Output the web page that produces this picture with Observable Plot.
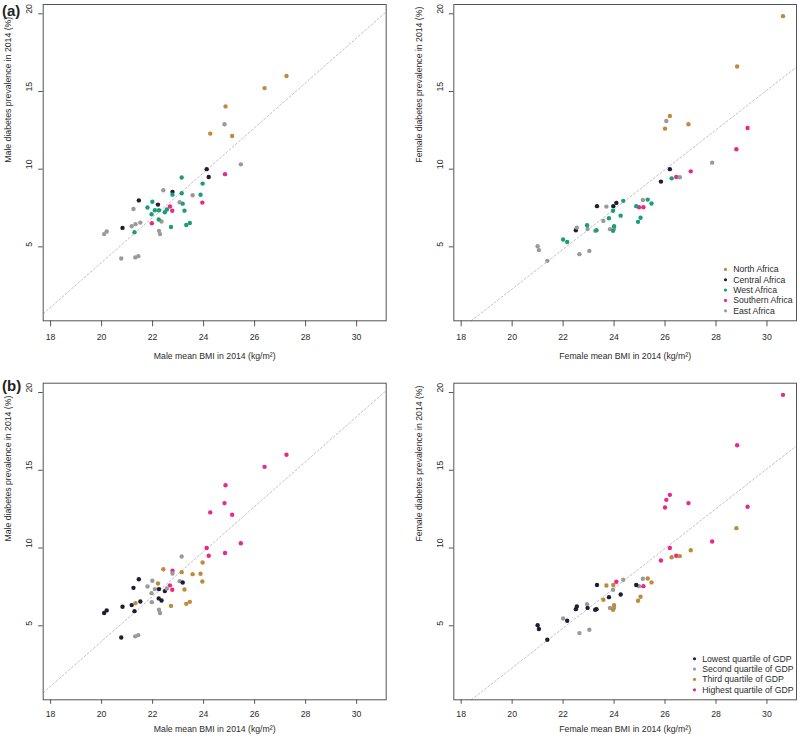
<!DOCTYPE html>
<html><head><meta charset="utf-8">
<script src="https://cdn.jsdelivr.net/npm/d3@7"></script>
<script src="https://cdn.jsdelivr.net/npm/@observablehq/plot@0.6"></script>
<style>
body{margin:0;background:#fff;font-family:"Liberation Sans",Arial,sans-serif;}
#wrap{position:relative;width:800px;height:737px;overflow:hidden;}
.panel{position:absolute;}
.panel svg{overflow:visible;}
.tag{position:absolute;font-weight:bold;font-size:15px;line-height:15px;color:#222;}
</style></head><body><div id="wrap"></div>
<script>
// ---- axes ----
const xDomain = [17.71, 31.16];
const yDomain = [0.24, 20.6];
const xTicks = [18, 20, 22, 24, 26, 28, 30];
const yTicks = [5, 10, 15, 20];

// ---- groups ----
const regions = ["North Africa", "Central Africa", "West Africa", "Southern Africa", "East Africa"];
const regionColors = ["#bf8a3a", "#211c33", "#1b9e77", "#e7298a", "#9a9a9a"];
const gdpGroups = ["Lowest quartile of GDP", "Second quartile of GDP", "Third quartile of GDP", "Highest quartile of GDP"];
const gdpColors = ["#211c33", "#9a9a9a", "#bf8a3a", "#e7298a"];

// ---- male data (region index into regions, gdp quartile 1..4) ----
const maleBMI = [27.25, 26.39, 24.86, 24.26, 25.12, 24.82, 25.46, 22.42, 23.57, 23.06, 21.25, 22.35, 21.52, 21.33, 21.18, 22.25, 22.29, 20.20, 20.10, 20.77, 21.32, 21.44, 24.12, 24.20, 22.78, 21.46, 22.21, 20.82, 24.84, 22.68, 22.77, 23.95, 21.97, 23.14, 23.96, 22.78, 23.14, 23.88, 21.99, 23.18, 21.80, 22.25, 22.09, 22.48, 22.56, 23.25, 21.96, 22.24, 21.29, 22.72, 23.32, 23.46];
const maleDM = [16.00, 15.22, 14.04, 12.29, 12.14, 12.89, 10.31, 8.64, 8.32, 7.87, 7.44, 6.63, 6.56, 6.46, 6.33, 6.03, 5.82, 5.99, 5.82, 4.25, 4.32, 4.40, 10.00, 9.50, 8.54, 7.99, 7.72, 6.22, 9.68, 7.60, 7.32, 7.85, 6.52, 9.46, 9.07, 8.36, 8.45, 8.35, 7.90, 7.78, 7.53, 7.36, 7.36, 7.23, 7.40, 7.33, 7.10, 6.76, 5.94, 6.28, 6.41, 6.54];
const maleRegion = [0, 0, 0, 0, 0, 4, 4, 4, 4, 4, 4, 4, 4, 4, 4, 4, 4, 4, 4, 4, 4, 4, 1, 1, 1, 1, 1, 1, 3, 3, 3, 3, 3, 2, 2, 2, 2, 2, 2, 2, 2, 2, 2, 2, 2, 2, 2, 2, 2, 2, 2, 2];
const maleGDP = [4, 4, 4, 4, 4, 4, 4, 3, 3, 2, 1, 1, 1, 3, 1, 2, 2, 1, 1, 1, 2, 2, 4, 4, 4, 1, 3, 1, 4, 4, 4, 3, 2, 2, 3, 2, 3, 3, 2, 1, 2, 1, 2, 1, 2, 3, 2, 1, 1, 3, 3, 3];

// ---- female data ----
const femaleBMI = [30.63, 28.83, 26.19, 26.00, 26.92, 29.24, 28.80, 27.01, 26.44, 24.98, 25.15, 26.19, 25.84, 23.33, 23.97, 24.09, 22.50, 26.05, 27.85, 26.58, 25.13, 23.70, 23.58, 23.84, 24.00, 22.54, 22.96, 23.26, 21.00, 21.05, 21.38, 22.64, 23.03, 26.26, 24.36, 25.32, 25.47, 24.87, 23.96, 23.80, 24.26, 25.04, 24.94, 22.94, 23.31, 24.00, 23.96, 22.00, 22.16];
const femaleDM = [19.85, 16.61, 13.42, 12.61, 12.89, 12.65, 11.28, 9.86, 9.50, 7.55, 7.55, 10.00, 9.20, 7.62, 7.62, 7.83, 6.07, 13.10, 10.42, 9.48, 8.02, 7.59, 6.67, 6.14, 6.16, 6.24, 6.15, 6.03, 5.04, 4.79, 4.10, 4.53, 4.74, 9.41, 7.96, 8.04, 7.79, 7.62, 7.32, 6.84, 7.01, 6.87, 6.61, 6.39, 6.07, 6.33, 6.03, 5.47, 5.32];
const femaleRegion = [0, 0, 0, 0, 0, 3, 3, 3, 3, 3, 3, 1, 1, 1, 1, 1, 1, 4, 4, 4, 4, 4, 4, 4, 4, 4, 4, 4, 4, 4, 4, 4, 4, 2, 2, 2, 2, 2, 2, 2, 2, 2, 2, 2, 2, 2, 2, 2, 2];
const femaleGDP = [4, 4, 4, 4, 4, 4, 3, 3, 4, 2, 4, 4, 4, 1, 3, 4, 1, 4, 4, 3, 2, 3, 3, 2, 2, 1, 1, 1, 1, 1, 1, 2, 2, 3, 2, 3, 3, 1, 2, 1, 1, 3, 3, 2, 1, 3, 3, 2, 1];

// ---- fitted reference lines [intercept, slope] ----
const maleFit = [-24.9, 1.445];
const femaleFit = [-23.31, 1.28];

const FONT = "'Liberation Sans', Arial, Helvetica, sans-serif";
const FS = 8.7;
const INK = "#555";
const TXT = "#2a2a2a";

function panel(cfg) {
  const {bmi, dm, groups, labels, colors, fit, xTitle, yTitle, legend,
         left, top, width, height, mL, mR, mT, mB, tickLen, labelGap, titleGap} = cfg;
  const data = bmi.map((x, i) => ({x, y: dm[i], g: labels[groups[i]]}));
  const [x0, x1] = xDomain, [y0, y1] = yDomain;
  const f = x => fit[0] + fit[1] * x;
  let xa = x0, xb = x1;
  if (f(xa) < y0) xa = (y0 - fit[0]) / fit[1];
  if (f(xb) > y1) xb = (y1 - fit[0]) / fit[1];
  const fitLine = [{x: xa, y: f(xa)}, {x: xb, y: f(xb)}];

  const marks = [
    Plot.line(fitLine, {x: "x", y: "y", stroke: "#c2c2c2", strokeWidth: 1, strokeDasharray: "2,2.2"}),
    Plot.dot(data, {x: "x", y: "y", r: 2.2, fill: "g"}),
    Plot.frame({stroke: INK, strokeWidth: 1}),
    Plot.axisX({ticks: xTicks, tickSize: tickLen, tickFormat: () => "", stroke: INK, label: null}),
    Plot.axisY({ticks: yTicks, tickSize: 4.5, tickFormat: () => "", stroke: INK, label: null}),
    Plot.text(xTicks, {x: d => d, text: d => String(d), frameAnchor: "bottom", dy: labelGap, fontSize: FS, fill: TXT, lineAnchor: "middle"}),
    Plot.text(yTicks, {y: d => d, text: d => String(d), frameAnchor: "left", dx: -13.5, rotate: -90, fontSize: FS, fill: TXT, lineAnchor: "middle"}),
    Plot.text([xTitle], {text: d => d, frameAnchor: "bottom", dy: titleGap, fontSize: FS, fill: TXT, lineAnchor: "middle"}),
    Plot.text([yTitle], {text: d => d, frameAnchor: "left", dx: -35, rotate: -90, fontSize: FS, fill: TXT, lineAnchor: "middle"})
  ];
  if (legend) {
    const n = labels.length;
    labels.forEach((lab, i) => {
      const dy = -10 - 10.35 * (n - 1 - i);
      marks.push(Plot.dot([lab], {frameAnchor: "bottom-right", dx: legend.dotDx, dy, r: 1.6, fill: colors[i]}));
      marks.push(Plot.text([lab], {text: d => d, frameAnchor: "bottom-right", dx: legend.textDx, dy, textAnchor: "start", fontSize: FS, fill: TXT, lineAnchor: "middle"}));
    });
  }
  const chart = Plot.plot({
    width, height,
    marginLeft: mL, marginRight: mR, marginTop: mT, marginBottom: mB,
    x: {domain: xDomain},
    y: {domain: yDomain},
    color: {domain: labels, range: colors},
    style: {fontFamily: FONT, background: "transparent", overflow: "visible"},
    marks
  });
  const div = document.createElement("div");
  div.className = "panel";
  div.style.left = left + "px";
  div.style.top = top + "px";
  div.appendChild(chart);
  document.getElementById("wrap").appendChild(div);
}

const topBox = {top: 0, height: 360, mT: 4, mB: 39.7, tickLen: 6, labelGap: 16.4, titleGap: 35};
const botBox = {top: 360, height: 377, mT: 22.7, mB: 37.7, tickLen: 4.5, labelGap: 14, titleGap: 29};
const leftBox = {left: 0, width: 400, mL: 42.7, mR: 14.3};
const rightBox = {left: 400, width: 400, mL: 53.3, mR: 4};

const maleX = "Male mean BMI in 2014 (kg/m²)";
const maleY = "Male diabetes prevalence in 2014 (%)";
const femaleX = "Female mean BMI in 2014 (kg/m²)";
const femaleY = "Female diabetes prevalence in 2014 (%)";

panel({...topBox, ...leftBox, bmi: maleBMI, dm: maleDM, groups: maleRegion, labels: regions, colors: regionColors,
       fit: maleFit, xTitle: maleX, yTitle: maleY});
panel({...topBox, ...rightBox, bmi: femaleBMI, dm: femaleDM, groups: femaleRegion, labels: regions, colors: regionColors,
       fit: femaleFit, xTitle: femaleX, yTitle: femaleY, legend: {dotDx: -71, textDx: -63.3}});
panel({...botBox, ...leftBox, bmi: maleBMI, dm: maleDM, groups: maleGDP.map(q => q - 1), labels: gdpGroups, colors: gdpColors,
       fit: maleFit, xTitle: maleX, yTitle: maleY});
panel({...botBox, ...rightBox, bmi: femaleBMI, dm: femaleDM, groups: femaleGDP.map(q => q - 1), labels: gdpGroups, colors: gdpColors,
       fit: femaleFit, xTitle: femaleX, yTitle: femaleY, legend: {dotDx: -102, textDx: -94.3}});

const wrap = document.getElementById("wrap");
[["(a)", 3], ["(b)", 378]].forEach(([t, y]) => {
  const d = document.createElement("div");
  d.className = "tag";
  d.style.left = "2px";
  d.style.top = y + "px";
  d.textContent = t;
  wrap.appendChild(d);
});
</script></body></html>
